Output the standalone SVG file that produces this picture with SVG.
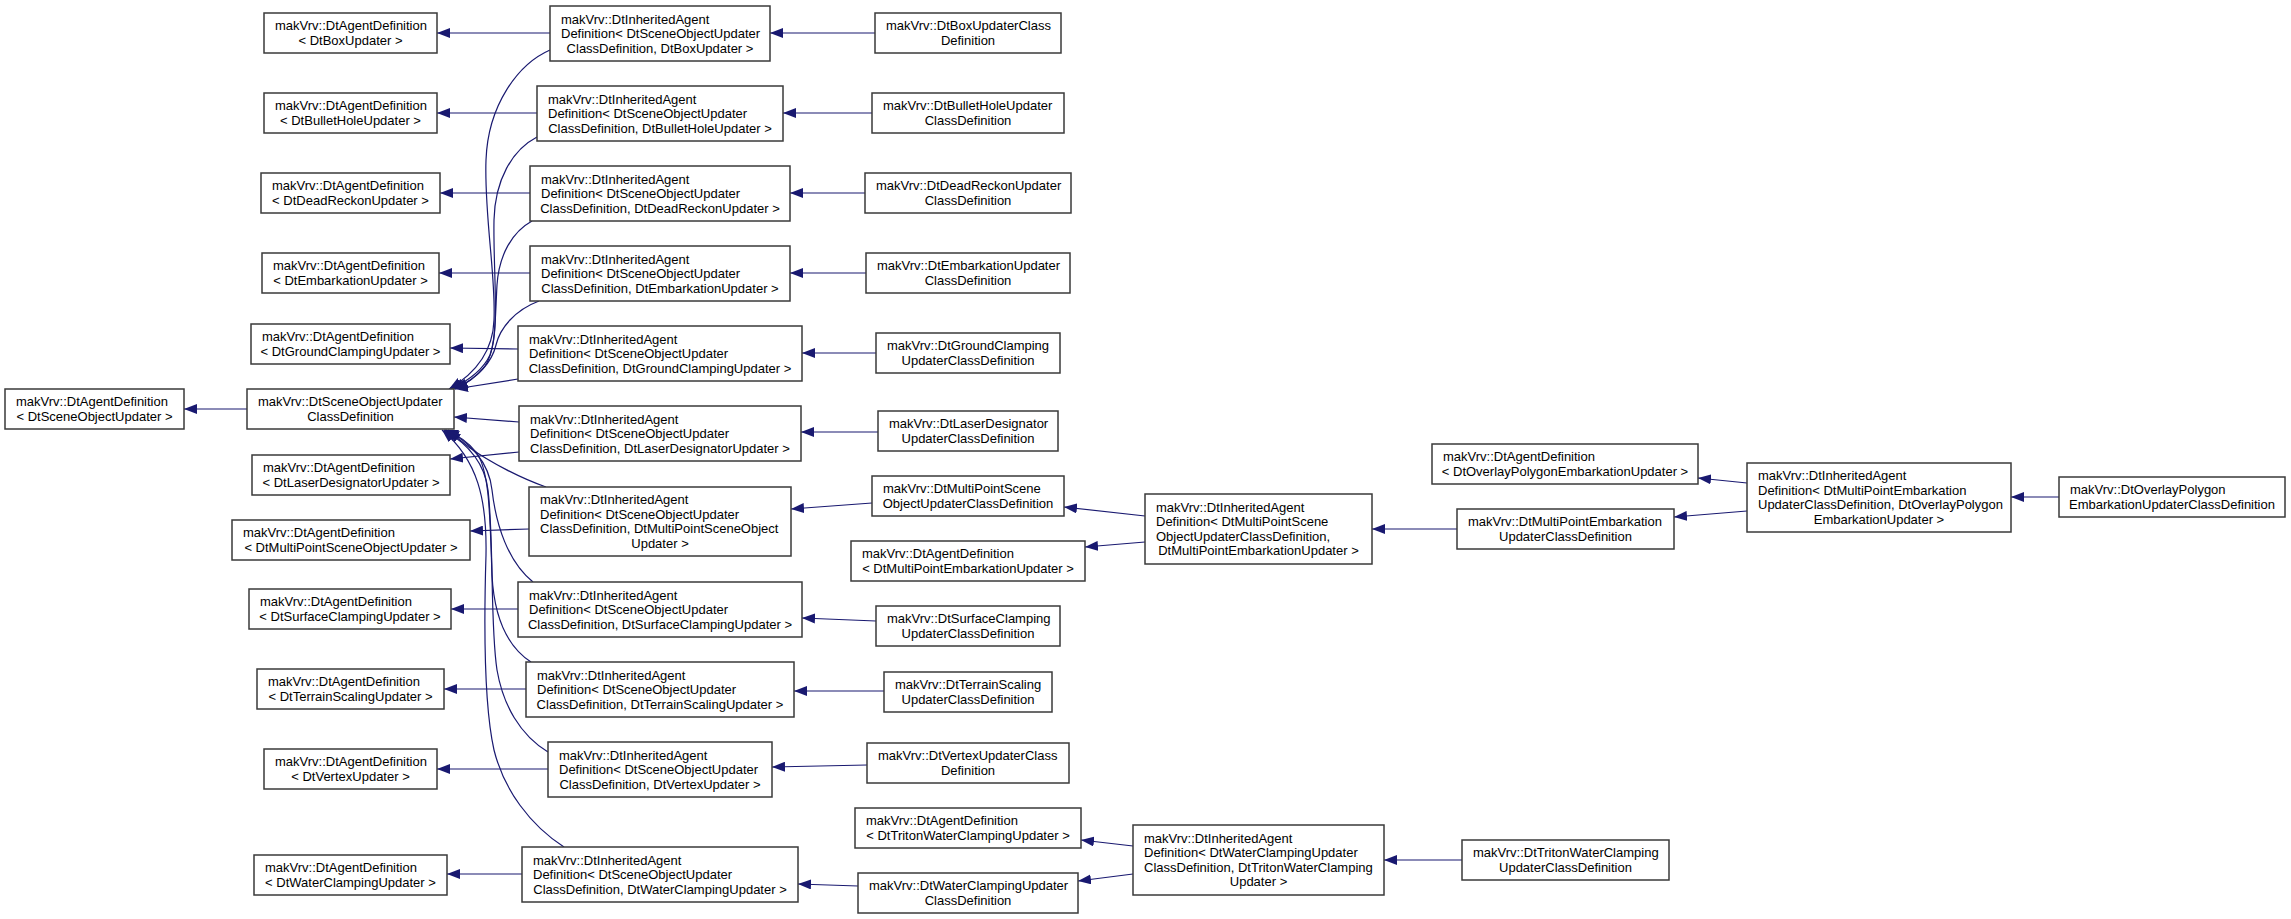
<svg xmlns="http://www.w3.org/2000/svg" width="2291" height="919" viewBox="0 0 2291 919">
<style>
.node rect{fill:#fff;stroke:#3a3a3a;stroke-width:1.5}
.node text{font-family:"Liberation Sans",Arial,sans-serif;font-size:13px;fill:#000}
.node .c{text-anchor:middle}
.edges path{fill:none;stroke:#191970;stroke-width:1.2;marker-end:url(#ah)}
</style>
<defs>
<marker id="ah" markerWidth="13" markerHeight="10" refX="13" refY="5" orient="auto" markerUnits="userSpaceOnUse">
<path d="M0,0 L13,5 L0,10 z" fill="#191970"/>
</marker>
</defs>
<rect width="2291" height="919" fill="#fff"/>
<g class="edges">
<path d="M247,409 L184,409"/>
<path d="M550,33 L437,33"/>
<path d="M537,113 L437,113"/>
<path d="M530,193 L440,193"/>
<path d="M530,273 L439,273"/>
<path d="M518,349 L450,348"/>
<path d="M519,452 L450,459"/>
<path d="M529,529 L470,531"/>
<path d="M518,609 L451,609"/>
<path d="M526,689 L444,689"/>
<path d="M548,769 L437,769"/>
<path d="M522,874 L447,874"/>
<path d="M550,50 C518,64 488,105 486,160 C484,215 496,275 494,320 C493,350 478,372 449,389"/>
<path d="M537,137 C512,150 495,180 494,220 C493,270 500,330 490,355 C483,370 470,380 451,389"/>
<path d="M532,221 C512,232 499,255 497,285 C495,320 496,350 485,366 C477,377 466,384 453,389"/>
<path d="M539,301 C515,310 500,328 496,345 C492,362 478,378 455,389"/>
<path d="M518,379 L455,389"/>
<path d="M519,422 L454,417"/>
<path d="M546,487 C520,478 490,462 470,448 C462,442 455,436 448,430"/>
<path d="M533,582 C508,562 496,525 492,490 C489,462 470,442 446,430"/>
<path d="M531,662 C505,645 494,615 492,575 C490,520 490,470 476,452 C468,442 458,435 445,430"/>
<path d="M548,752 C520,735 503,705 497,670 C490,625 494,540 488,490 C485,465 470,445 444,430"/>
<path d="M564,847 C530,825 504,790 494,750 C484,705 484,620 486,555 C487,500 478,460 442,430"/>
<path d="M875,33 L770,33"/>
<path d="M872,113 L783,113"/>
<path d="M865,193 L790,193"/>
<path d="M866,273 L790,273"/>
<path d="M876,353 L802,353"/>
<path d="M878,432 L801,432"/>
<path d="M872,503 L791,509"/>
<path d="M876,621 L802,618"/>
<path d="M884,691 L794,691"/>
<path d="M867,765 L772,767"/>
<path d="M858,886 L798,884"/>
<path d="M1145,516 L1064,507"/>
<path d="M1145,542 L1085,547"/>
<path d="M1457,529 L1372,529"/>
<path d="M1133,846 L1081,840"/>
<path d="M1133,874 L1078,881"/>
<path d="M1462,860 L1384,860"/>
<path d="M1747,483 L1698,478"/>
<path d="M1747,511 L1674,517"/>
<path d="M2059,497 L2011,497"/>
</g>
<g class="node" id="root"><rect x="5" y="389" width="179" height="40"/><text x="16" y="406.25">makVrv::DtAgentDefinition</text><text class="c" x="94.5" y="420.75">&lt; DtSceneObjectUpdater &gt;</text></g>
<g class="node" id="sou"><rect x="247" y="389" width="207" height="40"/><text x="258" y="406.25">makVrv::DtSceneObjectUpdater</text><text class="c" x="350.5" y="420.75">ClassDefinition</text></g>
<g class="node" id="a1"><rect x="264" y="13" width="173" height="40"/><text x="275" y="30.25">makVrv::DtAgentDefinition</text><text class="c" x="350.5" y="44.75">&lt; DtBoxUpdater &gt;</text></g>
<g class="node" id="a2"><rect x="264" y="93" width="173" height="40"/><text x="275" y="110.25">makVrv::DtAgentDefinition</text><text class="c" x="350.5" y="124.75">&lt; DtBulletHoleUpdater &gt;</text></g>
<g class="node" id="a3"><rect x="261" y="173" width="179" height="40"/><text x="272" y="190.25">makVrv::DtAgentDefinition</text><text class="c" x="350.5" y="204.75">&lt; DtDeadReckonUpdater &gt;</text></g>
<g class="node" id="a4"><rect x="262" y="253" width="177" height="40"/><text x="273" y="270.25">makVrv::DtAgentDefinition</text><text class="c" x="350.5" y="284.75">&lt; DtEmbarkationUpdater &gt;</text></g>
<g class="node" id="a5"><rect x="251" y="324" width="199" height="40"/><text x="262" y="341.25">makVrv::DtAgentDefinition</text><text class="c" x="350.5" y="355.75">&lt; DtGroundClampingUpdater &gt;</text></g>
<g class="node" id="a6"><rect x="252" y="455" width="198" height="40"/><text x="263" y="472.25">makVrv::DtAgentDefinition</text><text class="c" x="351" y="486.75">&lt; DtLaserDesignatorUpdater &gt;</text></g>
<g class="node" id="a7"><rect x="232" y="520" width="238" height="40"/><text x="243" y="537.25">makVrv::DtAgentDefinition</text><text class="c" x="351" y="551.75">&lt; DtMultiPointSceneObjectUpdater &gt;</text></g>
<g class="node" id="a8"><rect x="249" y="589" width="202" height="40"/><text x="260" y="606.25">makVrv::DtAgentDefinition</text><text class="c" x="350" y="620.75">&lt; DtSurfaceClampingUpdater &gt;</text></g>
<g class="node" id="a9"><rect x="257" y="669" width="187" height="40"/><text x="268" y="686.25">makVrv::DtAgentDefinition</text><text class="c" x="350.5" y="700.75">&lt; DtTerrainScalingUpdater &gt;</text></g>
<g class="node" id="a10"><rect x="264" y="749" width="173" height="40"/><text x="275" y="766.25">makVrv::DtAgentDefinition</text><text class="c" x="350.5" y="780.75">&lt; DtVertexUpdater &gt;</text></g>
<g class="node" id="a11"><rect x="254" y="855" width="193" height="40"/><text x="265" y="872.25">makVrv::DtAgentDefinition</text><text class="c" x="350.5" y="886.75">&lt; DtWaterClampingUpdater &gt;</text></g>
<g class="node" id="i1"><rect x="550" y="6" width="220" height="55"/><text x="561" y="23.5">makVrv::DtInheritedAgent</text><text x="561" y="38">Definition&lt; DtSceneObjectUpdater</text><text class="c" x="660" y="52.5">ClassDefinition, DtBoxUpdater &gt;</text></g>
<g class="node" id="i2"><rect x="537" y="86" width="246" height="55"/><text x="548" y="103.5">makVrv::DtInheritedAgent</text><text x="548" y="118">Definition&lt; DtSceneObjectUpdater</text><text class="c" x="660" y="132.5">ClassDefinition, DtBulletHoleUpdater &gt;</text></g>
<g class="node" id="i3"><rect x="530" y="166" width="260" height="55"/><text x="541" y="183.5">makVrv::DtInheritedAgent</text><text x="541" y="198">Definition&lt; DtSceneObjectUpdater</text><text class="c" x="660" y="212.5">ClassDefinition, DtDeadReckonUpdater &gt;</text></g>
<g class="node" id="i4"><rect x="530" y="246" width="260" height="55"/><text x="541" y="263.5">makVrv::DtInheritedAgent</text><text x="541" y="278">Definition&lt; DtSceneObjectUpdater</text><text class="c" x="660" y="292.5">ClassDefinition, DtEmbarkationUpdater &gt;</text></g>
<g class="node" id="i5"><rect x="518" y="326" width="284" height="55"/><text x="529" y="343.5">makVrv::DtInheritedAgent</text><text x="529" y="358">Definition&lt; DtSceneObjectUpdater</text><text class="c" x="660" y="372.5">ClassDefinition, DtGroundClampingUpdater &gt;</text></g>
<g class="node" id="i6"><rect x="519" y="406" width="282" height="55"/><text x="530" y="423.5">makVrv::DtInheritedAgent</text><text x="530" y="438">Definition&lt; DtSceneObjectUpdater</text><text class="c" x="660" y="452.5">ClassDefinition, DtLaserDesignatorUpdater &gt;</text></g>
<g class="node" id="i7"><rect x="529" y="487" width="262" height="69"/><text x="540" y="504.25">makVrv::DtInheritedAgent</text><text x="540" y="518.75">Definition&lt; DtSceneObjectUpdater</text><text x="540" y="533.25">ClassDefinition, DtMultiPointSceneObject</text><text class="c" x="660" y="547.75">Updater &gt;</text></g>
<g class="node" id="i8"><rect x="518" y="582" width="284" height="55"/><text x="529" y="599.5">makVrv::DtInheritedAgent</text><text x="529" y="614">Definition&lt; DtSceneObjectUpdater</text><text class="c" x="660" y="628.5">ClassDefinition, DtSurfaceClampingUpdater &gt;</text></g>
<g class="node" id="i9"><rect x="526" y="662" width="268" height="55"/><text x="537" y="679.5">makVrv::DtInheritedAgent</text><text x="537" y="694">Definition&lt; DtSceneObjectUpdater</text><text class="c" x="660" y="708.5">ClassDefinition, DtTerrainScalingUpdater &gt;</text></g>
<g class="node" id="i10"><rect x="548" y="742" width="224" height="55"/><text x="559" y="759.5">makVrv::DtInheritedAgent</text><text x="559" y="774">Definition&lt; DtSceneObjectUpdater</text><text class="c" x="660" y="788.5">ClassDefinition, DtVertexUpdater &gt;</text></g>
<g class="node" id="i11"><rect x="522" y="847" width="276" height="55"/><text x="533" y="864.5">makVrv::DtInheritedAgent</text><text x="533" y="879">Definition&lt; DtSceneObjectUpdater</text><text class="c" x="660" y="893.5">ClassDefinition, DtWaterClampingUpdater &gt;</text></g>
<g class="node" id="b1"><rect x="875" y="13" width="186" height="40"/><text x="886" y="30.25">makVrv::DtBoxUpdaterClass</text><text class="c" x="968" y="44.75">Definition</text></g>
<g class="node" id="b2"><rect x="872" y="93" width="192" height="40"/><text x="883" y="110.25">makVrv::DtBulletHoleUpdater</text><text class="c" x="968" y="124.75">ClassDefinition</text></g>
<g class="node" id="b3"><rect x="865" y="173" width="206" height="40"/><text x="876" y="190.25">makVrv::DtDeadReckonUpdater</text><text class="c" x="968" y="204.75">ClassDefinition</text></g>
<g class="node" id="b4"><rect x="866" y="253" width="204" height="40"/><text x="877" y="270.25">makVrv::DtEmbarkationUpdater</text><text class="c" x="968" y="284.75">ClassDefinition</text></g>
<g class="node" id="b5"><rect x="876" y="333" width="184" height="40"/><text x="887" y="350.25">makVrv::DtGroundClamping</text><text class="c" x="968" y="364.75">UpdaterClassDefinition</text></g>
<g class="node" id="b6"><rect x="878" y="411" width="180" height="40"/><text x="889" y="428.25">makVrv::DtLaserDesignator</text><text class="c" x="968" y="442.75">UpdaterClassDefinition</text></g>
<g class="node" id="b7"><rect x="872" y="476" width="192" height="40"/><text x="883" y="493.25">makVrv::DtMultiPointScene</text><text class="c" x="968" y="507.75">ObjectUpdaterClassDefinition</text></g>
<g class="node" id="am"><rect x="851" y="541" width="234" height="40"/><text x="862" y="558.25">makVrv::DtAgentDefinition</text><text class="c" x="968" y="572.75">&lt; DtMultiPointEmbarkationUpdater &gt;</text></g>
<g class="node" id="b8"><rect x="876" y="606" width="184" height="40"/><text x="887" y="623.25">makVrv::DtSurfaceClamping</text><text class="c" x="968" y="637.75">UpdaterClassDefinition</text></g>
<g class="node" id="b9"><rect x="884" y="672" width="168" height="40"/><text x="895" y="689.25">makVrv::DtTerrainScaling</text><text class="c" x="968" y="703.75">UpdaterClassDefinition</text></g>
<g class="node" id="b10"><rect x="867" y="743" width="202" height="40"/><text x="878" y="760.25">makVrv::DtVertexUpdaterClass</text><text class="c" x="968" y="774.75">Definition</text></g>
<g class="node" id="at"><rect x="855" y="808" width="226" height="40"/><text x="866" y="825.25">makVrv::DtAgentDefinition</text><text class="c" x="968" y="839.75">&lt; DtTritonWaterClampingUpdater &gt;</text></g>
<g class="node" id="bw"><rect x="858" y="873" width="220" height="40"/><text x="869" y="890.25">makVrv::DtWaterClampingUpdater</text><text class="c" x="968" y="904.75">ClassDefinition</text></g>
<g class="node" id="im"><rect x="1145" y="494" width="227" height="70"/><text x="1156" y="511.75">makVrv::DtInheritedAgent</text><text x="1156" y="526.25">Definition&lt; DtMultiPointScene</text><text x="1156" y="540.75">ObjectUpdaterClassDefinition,</text><text class="c" x="1258.5" y="555.25">DtMultiPointEmbarkationUpdater &gt;</text></g>
<g class="node" id="iw"><rect x="1133" y="825" width="251" height="70"/><text x="1144" y="842.75">makVrv::DtInheritedAgent</text><text x="1144" y="857.25">Definition&lt; DtWaterClampingUpdater</text><text x="1144" y="871.75">ClassDefinition, DtTritonWaterClamping</text><text class="c" x="1258.5" y="886.25">Updater &gt;</text></g>
<g class="node" id="ao"><rect x="1432" y="444" width="266" height="40"/><text x="1443" y="461.25">makVrv::DtAgentDefinition</text><text class="c" x="1565" y="475.75">&lt; DtOverlayPolygonEmbarkationUpdater &gt;</text></g>
<g class="node" id="bme"><rect x="1457" y="509" width="217" height="40"/><text x="1468" y="526.25">makVrv::DtMultiPointEmbarkation</text><text class="c" x="1565.5" y="540.75">UpdaterClassDefinition</text></g>
<g class="node" id="bt"><rect x="1462" y="840" width="207" height="40"/><text x="1473" y="857.25">makVrv::DtTritonWaterClamping</text><text class="c" x="1565.5" y="871.75">UpdaterClassDefinition</text></g>
<g class="node" id="io"><rect x="1747" y="463" width="264" height="69"/><text x="1758" y="480.25">makVrv::DtInheritedAgent</text><text x="1758" y="494.75">Definition&lt; DtMultiPointEmbarkation</text><text x="1758" y="509.25">UpdaterClassDefinition, DtOverlayPolygon</text><text class="c" x="1879" y="523.75">EmbarkationUpdater &gt;</text></g>
<g class="node" id="bo"><rect x="2059" y="477" width="226" height="40"/><text x="2070" y="494.25">makVrv::DtOverlayPolygon</text><text class="c" x="2172" y="508.75">EmbarkationUpdaterClassDefinition</text></g>
</svg>
